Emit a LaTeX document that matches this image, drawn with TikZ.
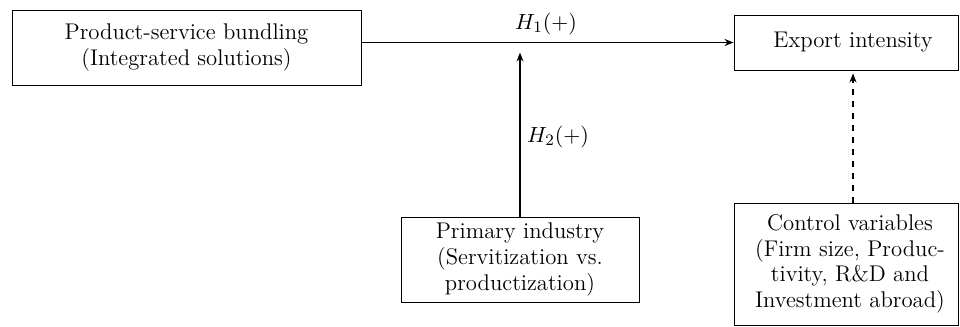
\documentclass[tikz,border=0pt]{standalone}
\usetikzlibrary{arrows.meta}
\begin{document}
\begin{tikzpicture}[x=0.5pt,y=-0.5pt,
  txt/.style={align=center,inner sep=0pt,font=\fontsize{11.35}{12.8}\selectfont},
  box/.style={draw,line width=0.45pt,inner sep=0pt},
  link/.style={-{Stealth[length=4.5pt,width=3.5pt]},line width=0.6pt}]
\useasboundingbox (0,0) rectangle (960,327);

% boxes
\node[box,txt,minimum width=174.5pt,minimum height=37.5pt] (psb) at (186.5,47.5)
  {Product-service bundling\\(Integrated solutions)};
\node[box,minimum width=112pt,minimum height=27.5pt] (exp) at (846,42.5) {};
\node[txt] (expt) at (853,42.5) {Export intensity};
\node[box,txt,minimum width=119pt,minimum height=42.5pt] (prim) at (520,259.5)
  {Primary industry\\(Servitization vs.\\productization)};
\node[box,minimum width=112pt,minimum height=61pt] (ctrl) at (846,264) {};
\node[txt] (ctrlt) at (850,264)
  {Control variables\\(Firm size, Produc-\\tivity, R\&D and\\Investment abroad)};

% connectors
\coordinate (mod) at (520,52.5);
\draw[link] (exp.west -| psb.east) -- (exp.west);
\draw[link] (prim.north) -- (mod);
\draw[link,dashed,shorten >=1.5pt] (expt.south |- ctrl.north) -- (expt.south |- exp.south);

% labels
\node[txt] (h1) at (546,24) {$H_1(+)$};
\node[txt] (h2) at (558,137) {$H_2(+)$};
\end{tikzpicture}
\end{document}
